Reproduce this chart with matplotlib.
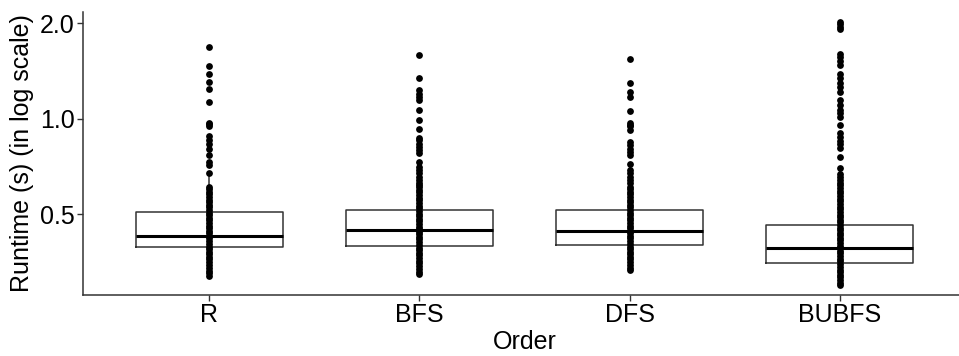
import matplotlib
matplotlib.use("Agg")
import matplotlib.pyplot as plt

plt.rcParams['font.family'] = ['Liberation Sans', 'DejaVu Sans']

# Groups on the x axis
orders = ['R', 'BFS', 'DFS', 'BUBFS']

# Box statistics (runtime in seconds)
q1 = [0.393, 0.397, 0.400, 0.350]
med = [0.426, 0.445, 0.443, 0.390]
q3 = [0.508, 0.515, 0.515, 0.461]
whis_lo = [0.319, 0.323, 0.333, 0.298]
whis_hi = [0.675, 0.705, 0.722, 0.697]

# Individual runs (dense lower column + sparse upper points)
runs_r = [0.319, 0.325, 0.332, 0.339, 0.346, 0.353, 0.36, 0.367, 0.374, 0.381,
          0.388, 0.395, 0.403, 0.411, 0.419, 0.427, 0.435, 0.443, 0.451, 0.46,
          0.469, 0.478, 0.487, 0.496, 0.505, 0.515, 0.525, 0.535, 0.545, 0.556,
          0.567, 0.578, 0.589, 0.6, 0.61,
          0.675, 0.714, 0.731, 0.767, 0.805, 0.83, 0.855, 0.88, 0.95, 0.96,
          0.97, 1.125, 1.24, 1.31, 1.38, 1.47, 1.68]
runs_bfs = [0.323, 0.329, 0.336, 0.343, 0.35, 0.357, 0.364, 0.371, 0.378, 0.385,
            0.392, 0.4, 0.408, 0.416, 0.424, 0.432, 0.44, 0.448, 0.457, 0.466,
            0.475, 0.484, 0.493, 0.502, 0.512, 0.522, 0.532, 0.542, 0.553, 0.564,
            0.575, 0.586, 0.597, 0.608, 0.617, 0.625,
            0.64, 0.656, 0.672, 0.688, 0.705, 0.731, 0.777, 0.796, 0.815, 0.835,
            0.855, 0.87, 0.927, 0.99, 1.063, 1.144, 1.17, 1.2, 1.23, 1.345, 1.585]
runs_dfs = [0.333, 0.339, 0.346, 0.353, 0.36, 0.367, 0.374, 0.381, 0.388, 0.395,
            0.403, 0.411, 0.419, 0.427, 0.435, 0.443, 0.451, 0.46, 0.469, 0.478,
            0.487, 0.496, 0.505, 0.515, 0.525, 0.535, 0.545, 0.556, 0.567, 0.578,
            0.589, 0.6,
            0.61, 0.625, 0.64, 0.656, 0.672, 0.688, 0.722, 0.767, 0.786, 0.805,
            0.825, 0.845, 0.92, 0.947, 0.958, 0.97, 1.056, 1.17, 1.215, 1.297, 1.548]
runs_bubfs = [0.298, 0.304, 0.31, 0.316, 0.322, 0.328, 0.334, 0.341, 0.348, 0.355,
              0.362, 0.369, 0.376, 0.383, 0.39, 0.397, 0.405, 0.413, 0.421, 0.429,
              0.437, 0.445, 0.453, 0.462, 0.471, 0.48, 0.489, 0.498, 0.508, 0.518,
              0.528, 0.538, 0.549, 0.56, 0.571, 0.582, 0.593, 0.604, 0.616, 0.628,
              0.64, 0.655, 0.67,
              0.697, 0.756, 0.807, 0.831, 0.849, 0.874, 0.9, 0.954, 1.011, 1.041,
              1.063, 1.103, 1.144, 1.21, 1.257, 1.3, 1.34, 1.38, 1.475, 1.52, 1.56,
              1.6, 1.92, 1.95, 1.99, 2.02]
runs = [runs_r, runs_bfs, runs_dfs, runs_bubfs]

fig = plt.figure(figsize=(9.59, 3.56), dpi=100)
ax = fig.add_axes([83 / 959, 1 - 295 / 356, (966 - 83) / 959, (295 - 12) / 356])

stats = []
for i, name in enumerate(orders):
    stats.append(dict(label=name, med=med[i], q1=q1[i], q3=q3[i],
                      whislo=whis_lo[i], whishi=whis_hi[i], fliers=[]))

ax.bxp(stats, positions=[1, 2, 3, 4], widths=0.7, showfliers=False, showcaps=False,
       boxprops=dict(color='#333333', linewidth=1.1),
       whiskerprops=dict(color='#333333', linewidth=1.1),
       medianprops=dict(color='black', linewidth=2.2))

for i, vals in enumerate(runs):
    ax.scatter([i + 1] * len(vals), vals, s=24, color='black', linewidths=0, zorder=3)

ax.set_yscale('log')
ax.set_ylim(0.278, 2.17)
ax.set_xlim(0.4, 4.6)
ax.set_yticks([0.5, 1.0, 2.0])
ax.set_yticklabels(['0.5', '1.0', '2.0'])
ax.minorticks_off()
ax.set_xticks([1, 2, 3, 4])
ax.set_xticklabels(orders)

ax.spines['top'].set_visible(False)
ax.spines['right'].set_visible(False)
for s in ['left', 'bottom']:
    ax.spines[s].set_color('#333333')
    ax.spines[s].set_linewidth(1.1)
ax.tick_params(axis='both', labelsize=18, colors='#333333', labelcolor='black',
               length=4, width=1, pad=2)

ax.set_xlabel('Order', fontsize=18, labelpad=2)
ax.set_ylabel('Runtime (s) (in log scale)', fontsize=18, labelpad=4)

fig.savefig('out.png', dpi=100)
